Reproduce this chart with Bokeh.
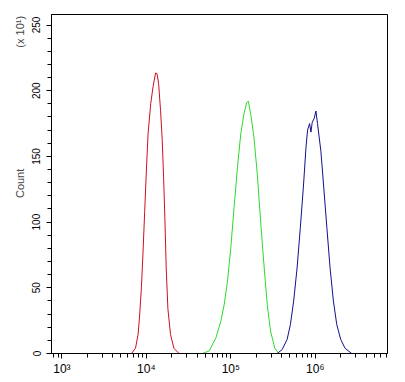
from bokeh.plotting import figure
from bokeh.models import (FixedTicker, SingleIntervalTicker, CustomJSTickFormatter,
                          Range1d)
from bokeh.embed import file_html
from bokeh.resources import INLINE

# ---- data (fluorescence intensity, count in units of x10) ----
red_x = [6670, 7430, 7980, 8340, 8730, 9140, 9550, 10000, 10470, 11250, 12000,
         12850, 13370, 13960, 14720, 15420, 16000, 16600, 17180, 17990, 19320,
         21180, 24430]
red_y = [0, 4, 14.5, 30, 50, 78, 108, 139, 167, 190, 203, 213.5, 213, 205.6,
         185, 162, 134, 101, 65, 34, 14.5, 4, 0]

green_x = [46450, 55590, 66700, 76200, 83370, 91440, 100000, 109300, 119900,
           131200, 143300, 154100, 161400, 171900, 187900, 206000, 225400,
           246600, 270400, 295900, 332100, 369800]
green_y = [0, 2, 12, 24.5, 37, 55, 80.5, 111, 141.7, 167, 182.5, 191, 192,
           182.5, 164.6, 136.6, 101, 68, 37, 17, 4, 0]

blue_x = [354300, 405700, 464700, 508100, 555700, 609500, 666700, 728200,
          777600, 811600, 857300, 890000, 922000, 973300, 1019000, 1064000,
          1167000, 1253000, 1373000, 1500000, 1641000, 1799000, 2005000,
          2253000, 2704000]
blue_y = [0, 3, 10.7, 22, 40, 65, 96, 129, 157, 170, 175, 168.5, 176, 179,
          184.5, 175, 154, 129, 96, 65, 40, 22, 10.7, 4, 0]

x_major = [1e3, 1e4, 1e5, 1e6]
y_major_interval = 50
y_title = "Count"
y_scale_note = "(x 10\u00b9)"

FONT = "Liberation Sans"

p = figure(width=397, height=380, x_axis_type="log",
           x_range=Range1d(752, 7.18e6), y_range=Range1d(0, 258),
           output_backend="svg", toolbar_location=None,
           min_border_left=51, min_border_right=10,
           min_border_top=14, min_border_bottom=27)

p.line(red_x, red_y, line_color="#cc1020", line_width=1)
p.line(green_x, green_y, line_color="#2ed82e", line_width=1)
p.line(blue_x, blue_y, line_color="#10108c", line_width=1)

p.xgrid.visible = False
p.ygrid.visible = False
p.outline_line_color = "black"
p.outline_line_width = 1

minor = []
for d in [2, 3, 4, 5, 6]:
    for m in range(2, 10):
        minor.append(m * 10 ** d)
minor = [v for v in minor if 752 <= v <= 7.18e6]
p.xaxis.ticker = FixedTicker(ticks=x_major, minor_ticks=minor)
p.xaxis.formatter = CustomJSTickFormatter(code="""
const sup = {'0':'\u2070','1':'\u00b9','2':'\u00b2','3':'\u00b3','4':'\u2074','5':'\u2075','6':'\u2076','7':'\u2077','8':'\u2078','9':'\u2079'};
const e = Math.round(Math.log10(tick)).toString();
return '10' + e.split('').map(c => sup[c]).join('');
""")
p.yaxis.ticker = SingleIntervalTicker(interval=y_major_interval, num_minor_ticks=5)
p.yaxis.major_label_orientation = "vertical"

for ax in [p.xaxis[0], p.yaxis[0]]:
    ax.axis_line_color = "black"
    ax.major_tick_line_color = "black"
    ax.minor_tick_line_color = "black"
    ax.major_tick_out = 5
    ax.major_tick_in = 0
    ax.minor_tick_out = 4
    ax.minor_tick_in = 0
    ax.major_label_text_color = "black"
p.xaxis.major_label_standoff = 3
p.yaxis.major_label_standoff = 6
p.xaxis.major_label_text_font = FONT
p.xaxis.major_label_text_font_size = "12px"
p.yaxis.major_label_text_font = "Liberation Sans Narrow, Liberation Sans"
p.yaxis.major_label_text_font_size = "10px"

# "Count" centred, scale note near the top, in one rotated label
EM = "\u2003"
p.yaxis.axis_label = EM * 14 + y_title + EM * 11 + y_scale_note
p.yaxis.axis_label_text_font = FONT
p.yaxis.axis_label_text_font_size = "11px"
p.yaxis.axis_label_text_font_style = "normal"
p.yaxis.axis_label_standoff = 4

open("out.html", "w").write(file_html(p, INLINE))
